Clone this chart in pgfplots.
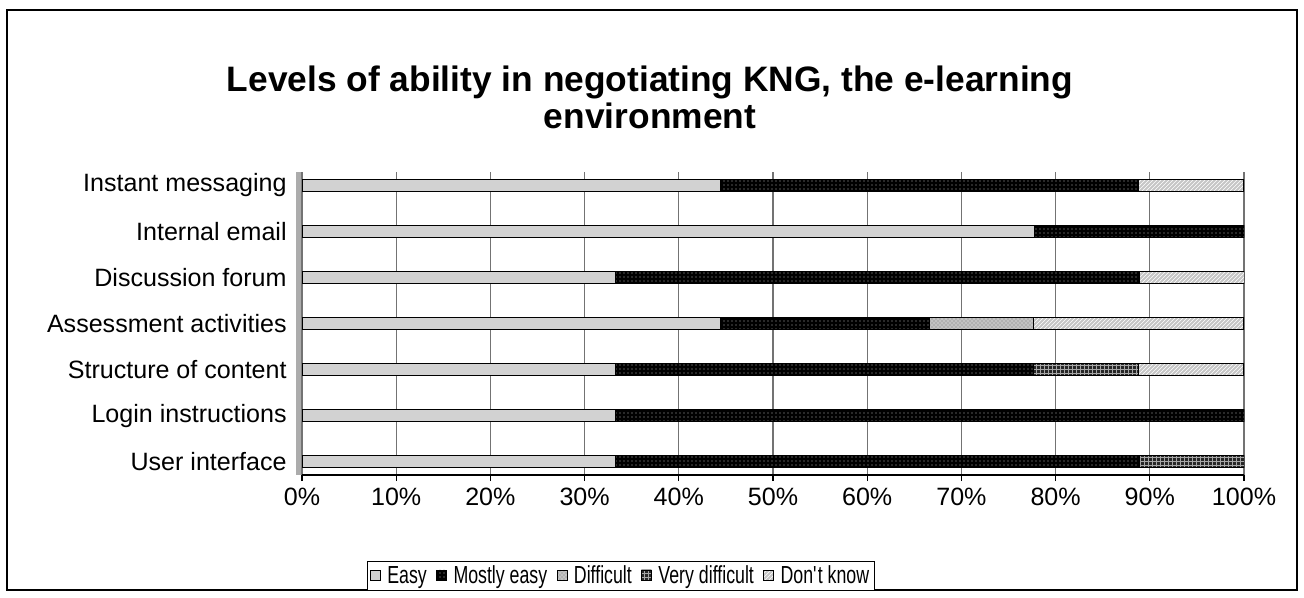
\documentclass[border=0pt]{standalone}
\usepackage{fontspec}
\setmainfont{Liberation Sans}
\newfontfamily\legfont[FakeStretch=0.72]{Liberation Sans}
\usepackage{pgfplots}
\pgfplotsset{compat=1.18}
\usetikzlibrary{patterns}
\begin{document}
\begin{tikzpicture}
\path[use as bounding box] (-226.5pt,-91.5pt) rectangle (751.5pt,356.25pt);
\draw[black, line width=1pt] (-221.25pt,-86.25pt) rectangle (746.25pt,348.75pt);
\node[anchor=base, font=\fontsize{26.5}{30}\selectfont\bfseries] at (261pt,287.25pt) {Levels of ability in negotiating KNG, the e-learning};
\node[anchor=base, font=\fontsize{26.5}{30}\selectfont\bfseries] at (261pt,259.5pt) {environment};
\fill[gray!65] (-4.5pt,0) rectangle (0pt,227.25pt);
\begin{axis}[
  at={(0,0)}, anchor=south west,
  scale only axis, width=706.5pt, height=227.25pt,
  xbar stacked, bar width=9pt,
  xmin=0, xmax=100, ymin=-0.29, ymax=6.29,
  axis x line*=bottom, axis y line*=left,
  y axis line style={draw=none},
  x axis line style={black, line width=0.8pt},
  xtick={0,10,...,100},
  xticklabel={\pgfmathprintnumber{\tick}\%},
  /pgf/number format/assume math mode=true,
  ytick={0,...,6},
  yticklabels={User interface,Login instructions,Structure of content,Assessment activities,Discussion forum,Internal email,Instant messaging},
  minor ytick={0.5,1.5,...,5.5},
  tick align=outside,
  major tick length=4.5pt, minor tick length=4.5pt,
  ytick style={draw=none},
  minor tick style={black, line width=0.6pt},
  xtick style={black, line width=0.8pt},
  xmajorgrids, grid style={gray!90!black, line width=0.8pt},
  ticklabel style={font=\fontsize{18.8}{22}\selectfont},
  yticklabel style={xshift=-3.5pt},
  xticklabel style={yshift=-2pt},
  area legend,
  legend image code/.code={\draw[#1, line width=0.5pt] (0pt,-3pt) rectangle (7.5pt,4.5pt);},
  legend columns=-1,
  legend style={at={(0.3386,-0.3333)}, anchor=center, draw=black, line width=0.8pt,
    font=\legfont\fontsize{18.5}{21}\selectfont, inner xsep=2pt, inner ysep=1.5pt,
    /tikz/every odd column/.append style={column sep=3pt},
    /tikz/every even column/.append style={column sep=5pt}},
]
\addplot[fill=gray!35, draw=black, line width=0.7pt] coordinates {(33.3,0) (33.3,1) (33.3,2) (44.4,3) (33.3,4) (77.8,5) (44.4,6)};
\addplot[fill=black, draw=black, line width=0.7pt, postaction={pattern=dots, pattern color=gray!60}] coordinates {(55.6,0) (66.7,1) (44.4,2) (22.2,3) (55.6,4) (22.2,5) (44.4,6)};
\addplot[fill=gray!60, draw=black, line width=0.7pt, postaction={pattern=crosshatch dots, pattern color=white}] coordinates {(0,0) (0,1) (0,2) (11.1,3) (0,4) (0,5) (0,6)};
\addplot[fill=black!85, draw=black, line width=0.7pt, postaction={pattern=grid, pattern color=gray!70}] coordinates {(11.1,0) (0,1) (11.1,2) (0,3) (0,4) (0,5) (0,6)};
\addplot[fill=gray!45, draw=black, line width=0.7pt, postaction={pattern=north east lines, pattern color=white}] coordinates {(0,0) (0,1) (11.1,2) (22.2,3) (11.1,4) (0,5) (11.1,6)};
\legend{Easy,Mostly easy,Difficult,Very difficult,Don\textquotesingle t know}
\end{axis}
\end{tikzpicture}
\end{document}
